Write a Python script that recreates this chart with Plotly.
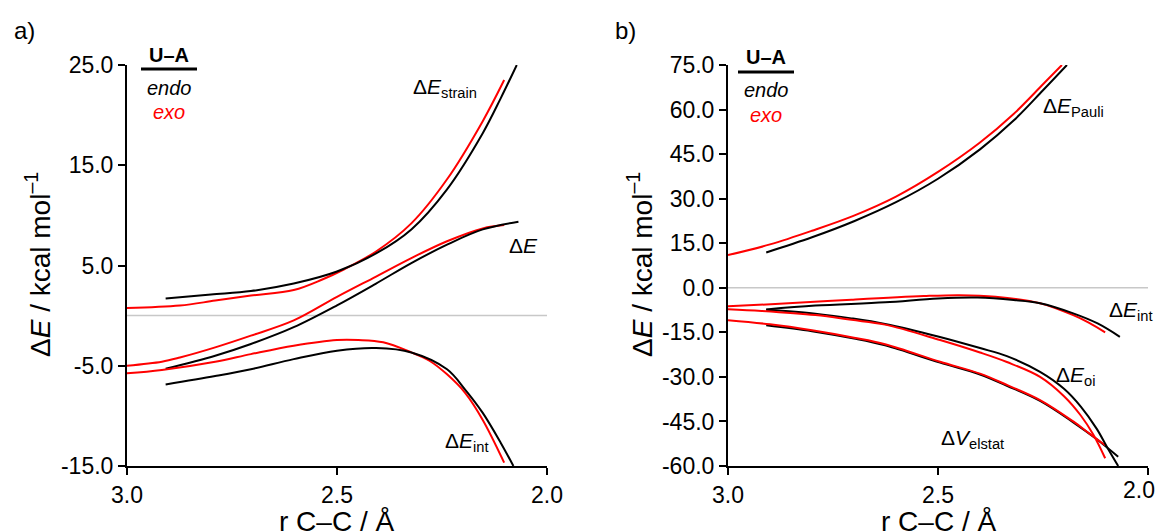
import plotly.graph_objects as go

# ---------------- Panel a data (U–A) ----------------
a_strain_endo_x = [2.908, 2.8, 2.705, 2.603, 2.5, 2.407, 2.323, 2.238, 2.153, 2.11, 2.072]
a_strain_endo_y = [1.7, 2.1, 2.45, 3.2, 4.4, 6.2, 8.6, 12.6, 18.2, 21.7, 25.0]
a_strain_exo_x = [3.0, 2.874, 2.79, 2.705, 2.603, 2.535, 2.484, 2.407, 2.323, 2.238, 2.153, 2.102]
a_strain_exo_y = [0.76, 1.0, 1.5, 2.0, 2.55, 3.6, 4.6, 6.4, 9.2, 13.6, 19.4, 23.5]

a_dE_endo_x = [2.908, 2.79, 2.705, 2.603, 2.5, 2.407, 2.323, 2.238, 2.153, 2.068]
a_dE_endo_y = [-5.3, -4.0, -2.83, -1.15, 1.03, 3.2, 5.24, 7.08, 8.6, 9.37]
a_dE_exo_x = [3.0, 2.917, 2.874, 2.79, 2.705, 2.603, 2.5, 2.407, 2.323, 2.238, 2.153, 2.102]
a_dE_exo_y = [-5.0, -4.6, -4.18, -3.17, -2.0, -0.48, 1.87, 3.9, 5.74, 7.42, 8.7, 9.03]

a_int_endo_x = [2.908, 2.79, 2.705, 2.603, 2.5, 2.407, 2.323, 2.238, 2.195, 2.153, 2.11, 2.08]
a_int_endo_y = [-6.87, -6.03, -5.35, -4.34, -3.5, -3.24, -3.67, -5.35, -7.37, -9.7, -12.7, -15.0]
a_int_exo_x = [3.0, 2.917, 2.79, 2.705, 2.603, 2.5, 2.449, 2.39, 2.323, 2.28, 2.238, 2.195, 2.153, 2.102]
a_int_exo_y = [-5.76, -5.42, -4.6, -3.84, -3.0, -2.43, -2.43, -2.66, -3.67, -4.5, -5.86, -7.7, -10.4, -14.66]

# ---------------- Panel b data (U–A) ----------------
b_pauli_endo_x = [2.909, 2.8, 2.7, 2.6, 2.5, 2.4, 2.32, 2.25, 2.193]
b_pauli_endo_y = [11.9, 17.0, 22.4, 28.8, 36.7, 46.6, 56.3, 66.5, 75.0]
b_pauli_exo_x = [3.0, 2.9, 2.8, 2.7, 2.6, 2.5, 2.4, 2.32, 2.25, 2.205]
b_pauli_exo_y = [11.0, 14.6, 19.2, 24.3, 30.7, 39.0, 48.9, 58.5, 68.5, 75.0]

b_int_endo_x = [2.909, 2.792, 2.626, 2.5, 2.406, 2.32, 2.257, 2.178, 2.12, 2.067]
b_int_endo_y = [-7.3, -6.0, -4.9, -3.6, -3.3, -4.1, -5.2, -8.6, -12.0, -16.5]
b_int_exo_x = [3.0, 2.877, 2.706, 2.534, 2.449, 2.363, 2.257, 2.178, 2.14, 2.102]
b_int_exo_y = [-6.2, -5.4, -4.0, -2.8, -2.5, -3.0, -5.2, -9.2, -11.8, -15.0]

b_oi_endo_x = [2.909, 2.792, 2.706, 2.626, 2.5, 2.4, 2.336, 2.257, 2.2, 2.16, 2.122, 2.098, 2.071]
b_oi_endo_y = [-7.4, -8.7, -10.3, -12.2, -16.4, -20.3, -23.0, -28.3, -34.0, -40.0, -47.5, -53.5, -60.0]
b_oi_exo_x = [3.0, 2.92, 2.792, 2.706, 2.626, 2.495, 2.4, 2.336, 2.257, 2.2, 2.16, 2.13, 2.102]
b_oi_exo_y = [-7.2, -7.8, -9.2, -10.8, -12.4, -17.6, -21.8, -25.0, -30.0, -36.5, -43.0, -49.5, -57.4]

b_elstat_endo_x = [2.909, 2.8, 2.7, 2.626, 2.495, 2.4, 2.336, 2.257, 2.178, 2.122, 2.071]
b_elstat_endo_y = [-12.6, -14.6, -17.1, -19.4, -25.2, -29.2, -33.0, -38.1, -45.3, -51.0, -56.9]
b_elstat_exo_x = [3.0, 2.9, 2.8, 2.7, 2.626, 2.495, 2.4, 2.336, 2.257, 2.178, 2.14, 2.102]
b_elstat_exo_y = [-10.9, -12.3, -14.3, -16.8, -19.0, -24.9, -28.9, -32.7, -37.8, -45.0, -49.0, -53.0]

a_yticks = [-15.0, -5.0, 5.0, 15.0, 25.0]
b_yticks = [-60.0, -45.0, -30.0, -15.0, 0.0, 15.0, 30.0, 45.0, 60.0, 75.0]
x_ticks = [3.0, 2.5, 2.0]

RED = "#ff0000"
BLACK = "#000000"
FONT = "Liberation Sans, Arial, Helvetica, sans-serif"
OFF = 8  # page body margin offset
W, H = 1164 - OFF, 532 - OFF

def px(x):
    return (x - OFF) / W

def py(y):
    return 1 - (y - OFF) / H

def fmt(v):
    return f"{v:.1f}"  # plain hyphen-minus as in the reference

fig = go.Figure()

def add(x, y, color, xa, ya):
    fig.add_trace(go.Scatter(x=x, y=y, mode="lines", xaxis=xa, yaxis=ya,
                             line=dict(color=color, width=2, shape="spline", smoothing=1.0),
                             showlegend=False, hoverinfo="skip"))

# panel a (exo first, endo on top)
add(a_strain_exo_x, a_strain_exo_y, RED, "x", "y")
add(a_strain_endo_x, a_strain_endo_y, BLACK, "x", "y")
add(a_dE_exo_x, a_dE_exo_y, RED, "x", "y")
add(a_dE_endo_x, a_dE_endo_y, BLACK, "x", "y")
add(a_int_exo_x, a_int_exo_y, RED, "x", "y")
add(a_int_endo_x, a_int_endo_y, BLACK, "x", "y")

# panel b
add(b_pauli_exo_x, b_pauli_exo_y, RED, "x2", "y2")
add(b_pauli_endo_x, b_pauli_endo_y, BLACK, "x2", "y2")
add(b_int_exo_x, b_int_exo_y, RED, "x2", "y2")
add(b_int_endo_x, b_int_endo_y, BLACK, "x2", "y2")
add(b_elstat_endo_x, b_elstat_endo_y, BLACK, "x2", "y2")
add(b_elstat_exo_x, b_elstat_exo_y, RED, "x2", "y2")
add(b_oi_endo_x, b_oi_endo_y, BLACK, "x2", "y2")
add(b_oi_exo_x, b_oi_exo_y, RED, "x2", "y2")

ydom = [py(466), py(65)]
axis_common = dict(showline=True, linecolor=BLACK, linewidth=2, ticks="outside",
                   ticklen=7, tickwidth=2, tickcolor=BLACK, showgrid=False, zeroline=False,
                   automargin=False,
                   tickfont=dict(family=FONT, size=23, color=BLACK))

# last x tick label of panel b is drawn as an annotation nudged left so it stays on screen
b_xticktext = [fmt(v) for v in x_ticks[:-1]] + [""]

fig.update_layout(
    width=W, height=H, margin=dict(l=0, r=0, t=0, b=0, autoexpand=False),
    paper_bgcolor="white", plot_bgcolor="white",
    xaxis=dict(domain=[px(127), px(547)], range=[3.0, 2.0], tickvals=x_ticks,
               ticktext=[fmt(v) for v in x_ticks], anchor="y", **axis_common),
    yaxis=dict(domain=ydom, range=[-15, 25], tickvals=a_yticks,
               ticktext=[fmt(v) for v in a_yticks], anchor="x", **axis_common),
    xaxis2=dict(domain=[px(728), px(1148)], range=[3.0, 2.0], tickvals=x_ticks,
                ticktext=b_xticktext, anchor="y2", **axis_common),
    yaxis2=dict(domain=ydom, range=[-60, 75], tickvals=b_yticks,
                ticktext=[fmt(v) for v in b_yticks], anchor="x2", **axis_common),
)

# zero lines
fig.add_shape(type="line", xref="x", yref="y", x0=3.0, x1=2.0, y0=0, y1=0,
              line=dict(color="#c8c8c8", width=1.5), layer="below")
fig.add_shape(type="line", xref="x2", yref="y2", x0=3.0, x1=2.0, y0=0, y1=0,
              line=dict(color="#c8c8c8", width=1.5), layer="below")

def ann(text, x, y, size=21, color=BLACK, angle=0, xanchor="center"):
    fig.add_annotation(text=text, x=px(x), y=py(y), xref="paper", yref="paper",
                       showarrow=False, xanchor=xanchor, yanchor="middle",
                       textangle=angle, font=dict(family=FONT, size=size, color=color))

# panel b "2.0" tick label
ann(fmt(x_ticks[-1]), 1157, 490, size=23, xanchor="right")

# panel letters
ann("a)", 24, 30, size=24)
ann("b)", 625, 30, size=24)

# mini legends
for cx, y_ua, y_line, y_endo, y_exo, x0, x1 in [(169, 55, 69, 88, 112, 141, 197),
                                                 (766, 57, 72, 90, 115, 738, 794)]:
    ann("<b>U–A</b>", cx, y_ua, size=20)
    fig.add_shape(type="line", xref="paper", yref="paper", x0=px(x0), x1=px(x1),
                  y0=py(y_line), y1=py(y_line), line=dict(color=BLACK, width=3))
    ann("<i>endo</i>", cx, y_endo, size=20)
    ann("<i>exo</i>", cx, y_exo, size=20, color=RED)

# axis titles
ytitle = "Δ<i>E</i> / kcal mol<sup>–1</sup>"
ann(ytitle, 38, 265, size=28, angle=-90)
ann(ytitle, 640, 265, size=28, angle=-90)
ann("r C–C / Å", 337, 521, size=28)
ann("r C–C / Å", 938, 521, size=28)

# curve labels
ann("Δ<i>E</i><sub>strain</sub>", 445, 88)
ann("Δ<i>E</i>", 523, 245)
ann("Δ<i>E</i><sub>int</sub>", 467, 442)
ann("Δ<i>E</i><sub>Pauli</sub>", 1073, 107)
ann("Δ<i>E</i><sub>int</sub>", 1131, 311)
ann("Δ<i>E</i><sub>oi</sub>", 1075, 376)
ann("Δ<i>V</i><sub>elstat</sub>", 972, 439)

fig.write_html("out.html")
